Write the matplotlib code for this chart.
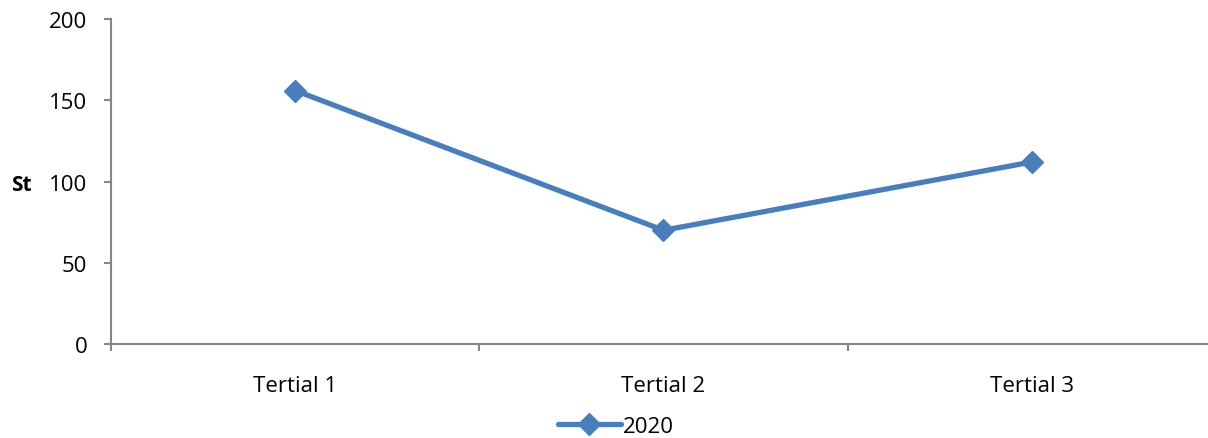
import matplotlib
matplotlib.use("Agg")
import matplotlib.pyplot as plt
from matplotlib.lines import Line2D

# ── Data ─────────────────────────────────────────────
categories = ["Tertial 1", "Tertial 2", "Tertial 3"]
values_2020 = [156, 70, 112]
series_name = "2020"

BLUE = "#4a7ebb"
AXIS = "#868686"

plt.rcParams["font.family"] = ["Open Sans", "DejaVu Sans"]

fig = plt.figure(figsize=(12.08, 4.39), dpi=100)
ax = fig.add_axes([0.0919, 0.2141, 0.9147, 0.7403])

x = list(range(len(categories)))
ax.plot(x, values_2020, color=BLUE, linewidth=3.8, marker="D",
        markersize=11, markerfacecolor=BLUE, markeredgecolor=BLUE,
        solid_capstyle="round", zorder=3)

ax.set_xlim(-0.5, len(categories) - 0.5)
ax.set_ylim(0, 200)
ax.set_yticks([0, 50, 100, 150, 200])
ax.set_xticks(x)
ax.set_xticklabels(categories)
ax.set_xticks([i - 0.5 for i in range(len(categories) + 1)], minor=True)

for side in ["top", "right"]:
    ax.spines[side].set_visible(False)
for side in ["left", "bottom"]:
    ax.spines[side].set_color(AXIS)
    ax.spines[side].set_linewidth(1.5)

ax.tick_params(axis="y", colors=AXIS, labelcolor="black", labelsize=16,
               length=5, width=1.5, pad=12)
ax.tick_params(axis="x", which="major", length=0, labelsize=16, pad=22,
               labelcolor="black")
ax.tick_params(axis="x", which="minor", colors=AXIS, length=5, width=1.5)

fig.text(0.009, (439 - 186) / 439, "St", fontsize=15, fontweight="bold",
         va="center", ha="left")

handle = Line2D([], [], color=BLUE, linewidth=3.8, marker="D", markersize=11,
                solid_capstyle="round")
fig.legend([handle], [series_name], loc="center", bbox_to_anchor=(0.51, 0.026),
           frameon=False, fontsize=16, handlelength=2.8, handletextpad=0.1,
           borderaxespad=0)

fig.savefig("out.png", dpi=100)
